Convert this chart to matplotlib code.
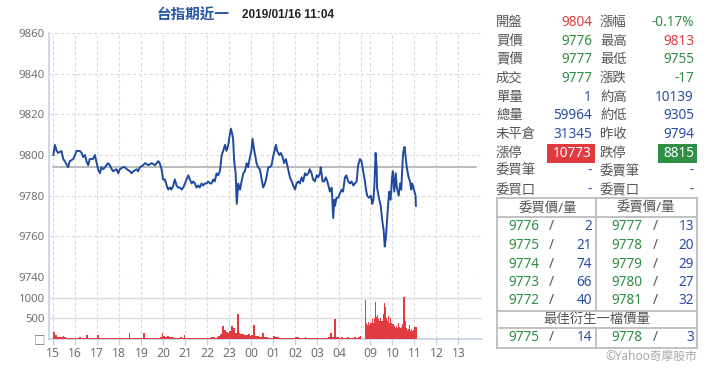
"""台指期近一 intraday chart (price + volume) with quote panel."""

import matplotlib
import matplotlib.pyplot as plt
from matplotlib.lines import Line2D
from matplotlib.patches import Rectangle

matplotlib.use("Agg")

plt.rcParams["font.family"] = ["Noto Sans", "Noto Sans CJK TC", "DejaVu Sans"]

# ---------------------------------------------------------------------------
# Data
# ---------------------------------------------------------------------------

TITLE = "台指期近一"
STAMP = "2019/01/16 11:04"
PREV_CLOSE = 9794

night_times = [
    "15:00", "15:04", "15:09", "15:13", "15:22", "15:27", "15:31", "15:40", "15:45", "15:54",
    "15:59", "16:03", "16:12", "16:17", "16:21", "16:26", "16:30", "16:35", "16:39", "16:44",
    "16:48", "16:53", "16:58", "17:02", "17:07", "17:11", "17:16", "17:25", "17:29", "17:34",
    "17:39", "17:43", "17:52", "17:57", "18:01", "18:10", "18:15", "18:20", "18:29", "18:33",
    "18:38", "18:47", "18:51", "18:56", "19:05", "19:10", "19:19", "19:28", "19:37", "19:46",
    "19:50", "19:55", "19:59", "20:04", "20:09", "20:13", "20:18", "20:22", "20:27", "20:31",
    "20:36", "20:40", "20:45", "20:50", "20:54", "20:59", "21:03", "21:08", "21:12", "21:17",
    "21:21", "21:26", "21:30", "21:35", "21:39", "21:44", "21:48", "21:53", "21:58", "22:02",
    "22:07", "22:11", "22:16", "22:20", "22:25", "22:29", "22:34", "22:39", "22:43", "22:48",
    "22:52", "22:57", "23:01", "23:04", "23:08", "23:10", "23:13", "23:17", "23:20", "23:24",
    "23:29", "23:33", "23:38", "23:42", "23:47", "23:51", "23:56", "00:00", "00:03", "00:07",
    "00:10", "00:14", "00:18", "00:23", "00:28", "00:32", "00:37", "00:41", "00:46", "00:50",
    "00:55", "00:59", "01:04", "01:07", "01:10", "01:16", "01:20", "01:25", "01:29", "01:34",
    "01:40", "01:45", "01:50", "01:54", "01:59", "02:03", "02:08", "02:12", "02:17", "02:21",
    "02:26", "02:30", "02:35", "02:39", "02:44", "02:48", "02:53", "02:58", "03:02", "03:07",
    "03:09", "03:14", "03:18", "03:23", "03:27", "03:30", "03:34", "03:39", "03:43", "03:46",
    "03:48", "03:52", "03:57", "04:01", "04:06", "04:10", "04:15", "04:19", "04:24", "04:29",
    "04:33", "04:38", "04:42", "04:47", "04:51", "04:56", "05:00",
]
night_prices = [
    9800, 9805, 9802, 9801, 9802, 9798, 9797, 9794, 9797, 9798,
    9800, 9802, 9802, 9801, 9799, 9800, 9797, 9795, 9798, 9798,
    9798, 9800, 9796, 9793, 9791, 9794, 9793, 9795, 9796, 9795,
    9793, 9792, 9793, 9791, 9793, 9794, 9794, 9793, 9792, 9791,
    9792, 9793, 9792, 9794, 9795, 9796, 9795, 9796, 9795, 9797,
    9796, 9793, 9788, 9788, 9785, 9783, 9784, 9783, 9785, 9788,
    9785, 9784, 9784, 9783, 9784, 9786, 9788, 9790, 9788, 9786,
    9787, 9786, 9784, 9785, 9784, 9786, 9785, 9786, 9786, 9787,
    9786, 9786, 9788, 9787, 9791, 9790, 9792, 9800, 9802, 9805,
    9802, 9805, 9810, 9813, 9810, 9808, 9797, 9791, 9776, 9786,
    9783, 9787, 9791, 9792, 9796, 9794, 9799, 9802, 9808, 9803,
    9800, 9796, 9794, 9793, 9788, 9784, 9786, 9789, 9794, 9794,
    9795, 9799, 9803, 9805, 9802, 9800, 9801, 9799, 9796, 9798,
    9793, 9789, 9787, 9785, 9783, 9786, 9787, 9786, 9789, 9787,
    9791, 9790, 9791, 9793, 9791, 9788, 9787, 9790, 9789, 9791,
    9794, 9787, 9787, 9789, 9787, 9785, 9782, 9784, 9769, 9778,
    9775, 9779, 9779, 9781, 9783, 9782, 9789, 9790, 9787, 9786,
    9787, 9785, 9786, 9787, 9795, 9798, 9797,
]

day_times = [
    "08:45", "08:47", "08:51", "08:56", "09:01", "09:05", "09:08", "09:11", "09:14", "09:17",
    "09:18", "09:23", "09:28", "09:32", "09:36", "09:39", "09:42", "09:45", "09:48", "09:51",
    "09:55", "09:59", "10:01", "10:05", "10:09", "10:12", "10:17", "10:21", "10:24", "10:28",
    "10:30", "10:33", "10:36", "10:39", "10:44", "10:48", "10:51", "10:54", "10:57", "11:00",
    "11:03", "11:04",
]
day_prices = [
    9787, 9784, 9780, 9779, 9780, 9776, 9778, 9786, 9801, 9794,
    9784, 9779, 9775, 9768, 9763, 9755, 9759, 9767, 9775, 9782,
    9778, 9789, 9792, 9782, 9791, 9784, 9780, 9786, 9783, 9798,
    9802, 9804, 9799, 9794, 9789, 9787, 9783, 9786, 9784, 9782,
    9780, 9775,
]

# volume per 5-minute slot, night session 15:00 - 04:55 (one row per hour)
night_vol_start = "15:00"
night_vol_step = 5
night_volumes = [
    180, 90, 60, 50, 40, 70, 40, 30, 25, 30, 25, 30,
    30, 25, 40, 30, 30, 25, 100, 30, 25, 30, 25, 30,
    90, 30, 25, 30, 25, 20, 25, 30, 25, 20, 25, 30,
    25, 20, 25, 30, 25, 140, 25, 20, 25, 30, 25, 20,
    25, 140, 30, 25, 20, 25, 30, 25, 25, 30, 40, 140,
    80, 60, 70, 50, 60, 40, 30, 35, 30, 40, 30, 90,
    30, 25, 30, 35, 25, 30, 25, 20, 30, 25, 30, 25,
    30, 35, 60, 40, 30, 50, 70, 120, 320, 220, 180, 140,
    200, 320, 270, 150, 600, 140, 120, 130, 100, 90, 110, 80,
    90, 330, 80, 70, 60, 50, 155, 60, 40, 35, 30, 30,
    75, 60, 40, 30, 35, 30, 25, 30, 25, 30, 25, 30,
    55, 50, 30, 25, 30, 40, 30, 25, 30, 25, 30, 20,
    25, 30, 25, 30, 25, 20, 40, 155, 60, 480, 60, 40,
    30, 40, 30, 25, 50, 30, 25, 30, 40, 30, 40, 75,
]
# volume per 3-minute slot, day session from 08:45
day_vol_start = "08:45"
day_vol_step = 3
day_volumes = [
    950, 380, 340, 420, 330, 380, 480, 400, 520, 900,
    540, 580, 480, 450, 520, 430, 620, 870, 780, 520,
    450, 560, 380, 500, 400, 360, 320, 280, 320, 280,
    400, 300, 260, 300, 360, 1020, 450, 280, 230, 250,
    330, 200, 240, 200, 220, 300, 290,
]

night_hours = ["15", "16", "17", "18", "19", "20", "21", "22", "23",
               "00", "01", "02", "03", "04"]
day_hours = ["09", "10", "11", "12", "13"]

quote_rows = [
    ("開盤", "9804", "red", "漲幅", "-0.17%", "green"),
    ("買價", "9776", "green", "最高", "9813", "red"),
    ("賣價", "9777", "green", "最低", "9755", "green"),
    ("成交", "9777", "green", "漲跌", "-17", "green"),
    ("單量", "1", "blue", "約高", "10139", "blue"),
    ("總量", "59964", "blue", "約低", "9305", "blue"),
    ("未平倉", "31345", "blue", "昨收", "9794", "blue"),
    ("漲停", "10773", "redbox", "跌停", "8815", "greenbox"),
    ("委買筆", "-", "blue", "委賣筆", "-", "blue"),
    ("委買口", "-", "blue", "委賣口", "-", "blue"),
]
bid_prices = ["9776", "9775", "9774", "9773", "9772"]
bid_sizes = ["2", "21", "74", "66", "40"]
ask_prices = ["9777", "9778", "9779", "9780", "9781"]
ask_sizes = ["13", "20", "29", "27", "32"]
best_bid = ("9775", "14")
best_ask = ("9778", "3")

# ---------------------------------------------------------------------------
# Styling
# ---------------------------------------------------------------------------

RED = "#e23b3f"
GREEN = "#2f8f44"
BLUE = "#2a4ea6"
LINE_BLUE = "#1f4aa0"
GRID = "#dcdcdc"
AXIS_BLUE = "#c5d3e6"
LABEL = "#555555"
TICK = "#707070"
COLORS = {"red": RED, "green": GREEN, "blue": BLUE}

DAY_GAP = 0.16  # hours of blank between 05:00 and 08:45


def to_pos(t: str) -> float:
    """Map HH:MM to the chart's session-compressed hour axis."""
    h, m = (int(v) for v in t.split(":"))
    mins = h * 60 + m
    if h >= 15:
        return (mins - 900) / 60
    if h < 6:
        return (mins + 1440 - 900) / 60
    return 14 + DAY_GAP + (mins - 525) / 60


def slot_times(start: str, step: int, n: int) -> list[str]:
    h, m = (int(v) for v in start.split(":"))
    out = []
    for i in range(n):
        t = (h * 60 + m + i * step) % 1440
        out.append(f"{t // 60:02d}:{t % 60:02d}")
    return out


W, H = 720, 379
fig = plt.figure(figsize=(W / 100, H / 100), dpi=100)


def box(x0, y0, x1, y1):
    return [x0 / W, 1 - y1 / H, (x1 - x0) / W, (y1 - y0) / H]


ax = fig.add_axes(box(49, 33, 482, 277))
axv = fig.add_axes(box(49, 277, 482, 339))

xmin, xmax = -0.2, 19.48
tick_pos = [to_pos(h + ":00") for h in night_hours + day_hours]
grid_pos = tick_pos + [14.0]

# --- price panel ----------------------------------------------------------
px = [to_pos(t) for t in night_times + day_times]
py = night_prices + day_prices
ax.plot(px, py, color=LINE_BLUE, lw=1.4, zorder=3)
ax.axhline(PREV_CLOSE, xmin=(0 - xmin) / (xmax - xmin),
           xmax=(19.2 - xmin) / (xmax - xmin), color="#a8a8a8", lw=1.1, zorder=2)

ax.set_xlim(xmin, xmax)
ax.set_ylim(9740, 9860)
ax.set_yticks(range(9740, 9861, 20))
for g in grid_pos:
    ax.axvline(g, color=GRID, lw=0.8, ls=(0, (3, 2)), zorder=1)
for v in range(9740, 9861, 20):
    ax.axhline(v, color=GRID, lw=0.8, ls=(0, (3, 2)), zorder=1)
ax.set_xticks([])
ax.tick_params(axis="y", length=0, pad=3, labelsize=8.2, labelcolor=TICK)
for s in ("top", "right", "bottom"):
    ax.spines[s].set_visible(False)
ax.spines["left"].set_color(AXIS_BLUE)
ax.spines["left"].set_linewidth(1.2)

# --- volume panel ---------------------------------------------------------
nt = slot_times(night_vol_start, night_vol_step, len(night_volumes))
dt = slot_times(day_vol_start, day_vol_step, len(day_volumes))
axv.bar([to_pos(t) for t in nt], night_volumes, width=night_vol_step / 60,
        align="edge", color=RED, lw=0, zorder=3)
axv.bar([to_pos(t) for t in dt], day_volumes, width=day_vol_step / 60,
        align="edge", color=RED, lw=0, zorder=3)
axv.set_xlim(xmin, xmax)
axv.set_ylim(0, 1510)
axv.set_yticks([0, 500, 1000])
axv.set_yticklabels(["□", "500", "1000"])
for v in (500, 1000):
    axv.axhline(v, color=GRID, lw=1.0, zorder=1)
for g in grid_pos:
    axv.axvline(g, color=GRID, lw=0.8, ls=(0, (3, 2)), zorder=1)
axv.set_xticks(tick_pos)
axv.set_xticklabels(night_hours + day_hours)
axv.tick_params(axis="x", length=4, width=1, color=AXIS_BLUE, pad=2,
                labelsize=8.8, labelcolor=TICK)
axv.tick_params(axis="y", length=0, pad=3, labelsize=8.2, labelcolor=TICK)
for s in ("top", "right"):
    axv.spines[s].set_visible(False)
axv.spines["left"].set_color(AXIS_BLUE)
axv.spines["left"].set_linewidth(1.2)
axv.spines["bottom"].set_color(AXIS_BLUE)
axv.spines["bottom"].set_linewidth(1.2)

# --- title ----------------------------------------------------------------
fig.text(157 / W, 1 - 15 / H, TITLE, fontsize=10.5, fontweight="bold",
         color="#2757a9", va="center", ha="left", family="Noto Sans CJK TC")
fig.text(242 / W, 1 - 15 / H, STAMP, fontsize=8.5, fontweight="bold",
         color="#222222", va="center", ha="left", family="Liberation Sans")

# --- quote panel (pixel coordinates) --------------------------------------
ov = fig.add_axes([0, 0, 1, 1], facecolor="none")
ov.set_xlim(0, W)
ov.set_ylim(H, 0)
ov.axis("off")

FS = 9.8
CJ = 9.6
row_y = [22.5 + 18.65 * i for i in range(len(quote_rows))]
for y, (l1, v1, c1, l2, v2, c2) in zip(row_y, quote_rows):
    ov.text(496, y, l1, fontsize=CJ, color=LABEL, va="center", ha="left")
    ov.text(600, y, l2, fontsize=CJ, color=LABEL, va="center", ha="left")
    for val, col, xr, xl in ((v1, c1, 592, 547), (v2, c2, 694, 658)):
        if col.endswith("box"):
            fc = RED if col == "redbox" else GREEN
            ov.add_patch(Rectangle((xl, y - 9.5), xr + 3 - xl, 19, color=fc, lw=0))
            ov.text(xr, y, val, fontsize=FS, color="white", va="center", ha="right")
        else:
            ov.text(xr, y, val, fontsize=FS, color=COLORS[col], va="center", ha="right")

# order book frame
frame = dict(color="#bdbdbd", lw=1.3)
for yy in (198, 217, 311, 328, 348):
    ov.add_line(Line2D([497, 697], [yy, yy], **frame))
for xx in (497, 697):
    ov.add_line(Line2D([xx, xx], [198, 348], **frame))
ov.add_line(Line2D([596, 596], [198, 311], **frame))
ov.add_line(Line2D([596, 596], [328, 348], **frame))

ov.text(548, 208, "委買價/量", fontsize=CJ, color=LABEL, va="center", ha="center")
ov.text(646, 208, "委賣價/量", fontsize=CJ, color=LABEL, va="center", ha="center")

book_y = [227 + 18.5 * i for i in range(5)]
for y, bp, bs, ap, asz in zip(book_y, bid_prices, bid_sizes, ask_prices, ask_sizes):
    ov.text(508, y, bp, fontsize=FS, color=GREEN, va="center", ha="left")
    ov.text(549, y, "/", fontsize=FS, color=LABEL, va="center", ha="left")
    ov.text(592, y, bs, fontsize=FS, color=BLUE, va="center", ha="right")
    ov.text(611, y, ap, fontsize=FS, color=GREEN, va="center", ha="left")
    ov.text(653, y, "/", fontsize=FS, color=LABEL, va="center", ha="left")
    ov.text(694, y, asz, fontsize=FS, color=BLUE, va="center", ha="right")

ov.text(597, 319, "最佳衍生一檔價量", fontsize=CJ, color=LABEL, va="center", ha="center")
ov.text(508, 337.5, best_bid[0], fontsize=FS, color=GREEN, va="center", ha="left")
ov.text(549, 337.5, "/", fontsize=FS, color=LABEL, va="center", ha="left")
ov.text(592, 337.5, best_bid[1], fontsize=FS, color=BLUE, va="center", ha="right")
ov.text(611, 337.5, best_ask[0], fontsize=FS, color=GREEN, va="center", ha="left")
ov.text(653, 337.5, "/", fontsize=FS, color=LABEL, va="center", ha="left")
ov.text(694, 337.5, best_ask[1], fontsize=FS, color=BLUE, va="center", ha="right")

ov.text(697, 356, "©Yahoo奇摩股市", fontsize=8.5, color="#a8a8a8", va="center", ha="right")

fig.savefig("out.png", dpi=100)
